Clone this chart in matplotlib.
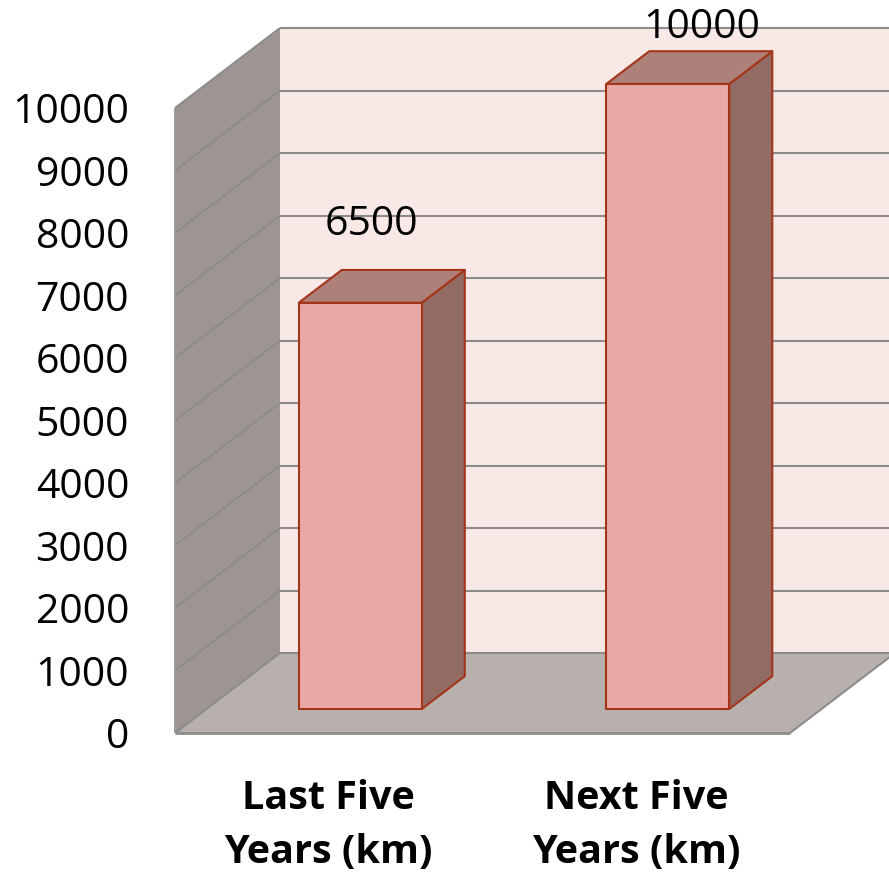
import numpy as np
import matplotlib
matplotlib.use("Agg")
import matplotlib.pyplot as plt
from matplotlib.patches import Polygon

# ---- data ----
categories = ["Last Five\nYears (km)", "Next Five\nYears (km)"]
values = [6500, 10000]
value_labels = ["6500", "10000"]
y_ticks = [0, 1000, 2000, 3000, 4000, 5000, 6000, 7000, 8000, 9000, 10000]
y_max = 10000

# ---- styling ----
W, H, DPI = 8.89, 8.75, 100
DEPTH_PX = (105, 80)          # screen offset of the full floor depth
BAR_DEPTH = (0.30, 0.71)      # bar front/back positions within the depth
BAR_WIDTH = 0.40

BACK_WALL = "#F8E8E6"
SIDE_WALL = "#9E9592"
FLOOR = "#B8B0AD"
GRID = "#8C8C8C"
BAR_FRONT = "#E8A8A4"
BAR_TOP = "#AD8079"
BAR_SIDE = "#926B64"
BAR_EDGE = "#A3361A"

plt.rcParams["font.family"] = ["Open Sans", "DejaVu Sans"]

fig = plt.figure(figsize=(W, H), dpi=DPI)
fw, fh = W * DPI, H * DPI
ax = fig.add_axes([175 / fw, (fh - 733) / fh, 615 / fw, 625 / fh])
ax.set_xlim(0, len(categories))
ax.set_ylim(0, y_max)
for s in ax.spines.values():
    s.set_visible(False)
ax.set_facecolor("none")


def proj(x, v, d):
    """Map a point on the value plane at depth d (0 = front, 1 = back)."""
    p = ax.transData.transform((x, v)) + d * np.array(DEPTH_PX, dtype=float)
    return ax.transData.inverted().transform(p)


def face(points, **kw):
    poly = Polygon([proj(*p) for p in points], closed=True, clip_on=False, **kw)
    ax.add_patch(poly)
    return poly


def line(p0, p1, **kw):
    a, b = proj(*p0), proj(*p1)
    ax.plot([a[0], b[0]], [a[1], b[1]], clip_on=False, solid_capstyle="butt", **kw)


xmax = len(categories)

# walls and floor
face([(0, 0, 1), (xmax, 0, 1), (xmax, y_max, 1), (0, y_max, 1)],
     facecolor=BACK_WALL, edgecolor="none", zorder=1)
face([(0, 0, 0), (0, y_max, 0), (0, y_max, 1), (0, 0, 1)],
     facecolor=SIDE_WALL, edgecolor="none", zorder=1)
face([(0, 0, 0), (xmax, 0, 0), (xmax, 0, 1), (0, 0, 1)],
     facecolor=FLOOR, edgecolor="none", zorder=1)

# gridlines on the back and side walls
for t in y_ticks:
    line((0, t, 1), (xmax, t, 1), color=GRID, lw=1.5, zorder=2)
    line((0, t, 0), (0, t, 1), color=GRID, lw=1.5, zorder=2)

# floor and wall outlines
line((0, 0, 0), (xmax, 0, 0), color=GRID, lw=2, zorder=2)
line((xmax, 0, 0), (xmax, 0, 1), color=GRID, lw=1.5, zorder=2)
line((0, 0, 0), (0, y_max, 0), color="#9A9A9A", lw=1.5, zorder=2)

# 3-D bars
d0, d1 = BAR_DEPTH
xs = np.arange(len(categories)) + 0.5
for x, v in zip(xs, values):
    x0, x1 = x - BAR_WIDTH / 2, x + BAR_WIDTH / 2
    kw = dict(edgecolor=BAR_EDGE, lw=1.5, joinstyle="round", zorder=3)
    face([(x1, 0, d0), (x1, v, d0), (x1, v, d1), (x1, 0, d1)], facecolor=BAR_SIDE, **kw)
    face([(x0, v, d0), (x1, v, d0), (x1, v, d1), (x0, v, d1)], facecolor=BAR_TOP, **kw)
    face([(x0, 0, d0), (x1, 0, d0), (x1, v, d0), (x0, v, d0)], facecolor=BAR_FRONT, **kw)

# value labels
label_offsets = [(11, 78), (34, 56)]
for x, v, txt, off in zip(xs, values, value_labels, label_offsets):
    p = proj(x, v, d0)
    ax.annotate(txt, xy=p, xytext=off, textcoords="offset pixels",
                ha="center", va="center", fontsize=29.5, annotation_clip=False,
                zorder=5)

# axes labels
ax.set_yticks(y_ticks)
ax.set_yticklabels([str(t) for t in y_ticks], fontsize=29.5)
ax.tick_params(axis="y", length=0, pad=33)
ax.set_xticks(xs)
ax.set_xticklabels(categories, fontsize=28.5, fontweight="bold", linespacing=1.5)
ax.tick_params(axis="x", length=0, pad=33)

fig.savefig("out.png", dpi=DPI, facecolor="white")
